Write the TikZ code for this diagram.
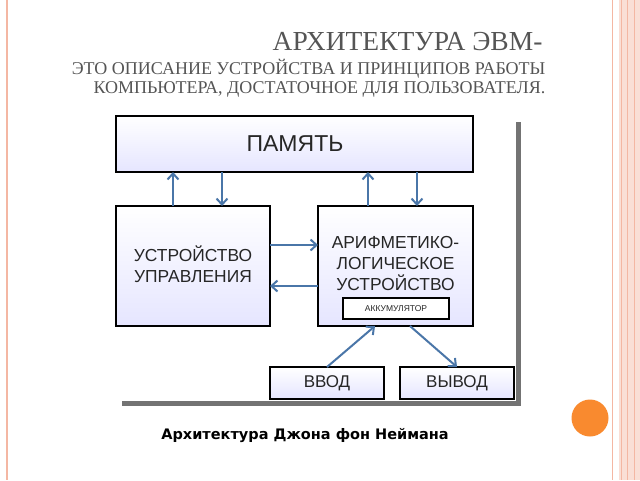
\documentclass[tikz,border=0pt]{standalone}
\usepackage{fontspec}
\setmainfont{Liberation Serif}
\newfontfamily\boxfont{Liberation Sans}
\newfontfamily\capfont{DejaVu Sans}
\usetikzlibrary{arrows.meta}
\definecolor{arr}{HTML}{4A76A8}
\definecolor{deco}{HTML}{F4B7A3}
\definecolor{ttl}{HTML}{555555}
\definecolor{dot}{HTML}{F98A2F}
\tikzset{
  blk/.style={draw=black, line width=1.6pt, top color=white, bottom color=blue!10!white, inner sep=0pt},
  lbl/.style={font=\boxfont, text=black!85},
  conn/.style={draw=arr, line width=2pt, -{Straight Barb[length=6pt,width=11pt,line width=2pt]}},
}
\begin{document}
\begin{tikzpicture}[x=1pt,y=-1pt]
\useasboundingbox (0,0) rectangle (640,480);
\fill[white] (0,0) rectangle (640,480);
% slide decoration
\draw[deco, line width=1.2pt] (7,0) -- (7,480);
\draw[deco, line width=1pt] (612,0) -- (612,480);
\fill[deco!45] (619,0) rectangle (640,480);
\draw[deco, line width=0.8pt] (621,0) -- (621,480) (627,0) -- (627,480) (634,0) -- (634,480);
\fill[dot] (590,418) circle (18.5);
% title
\node[anchor=east, text=ttl, font=\fontsize{27.5}{30}\selectfont] (t1) at (546,42) {АРХИТЕКТУРА ЭВМ-};
\node[anchor=east, text=ttl, align=right, font=\fontsize{18}{19}\selectfont] (t2) at (549,78) {ЭТО ОПИСАНИЕ УСТРОЙСТВА И ПРИНЦИПОВ РАБОТЫ\\КОМПЬЮТЕРА, ДОСТАТОЧНОЕ ДЛЯ ПОЛЬЗОВАТЕЛЯ.};
% shadow frame
\fill[black!55] (516,122) rectangle (521,406);
\fill[black!55] (122,401) rectangle (521,406);
% boxes
\draw[blk] (116,116) rectangle (473,172);
\node[lbl, font=\boxfont\fontsize{23}{25}\selectfont] (mem) at (295,144) {ПАМЯТЬ};
\draw[blk] (116,206) rectangle (270,326);
\node[lbl, align=center, font=\boxfont\fontsize{17.4}{21}\selectfont] (cu) at (193,264) {УСТРОЙСТВО\\УПРАВЛЕНИЯ};
\draw[blk] (318,206) rectangle (473,326);
\node[lbl, align=center, font=\boxfont\fontsize{17.4}{21}\selectfont] (alu) at (395.5,264) {АРИФМЕТИКО-\\ЛОГИЧЕСКОЕ\\УСТРОЙСТВО};
\draw[black, line width=1.4pt, fill=white] (343,298) rectangle (449,319);
\node[lbl, font=\boxfont\fontsize{8.5}{9}\selectfont] (acc) at (396,308.5) {АККУМУЛЯТОР};
\draw[blk] (270,367) rectangle (384,399);
\node[lbl, font=\boxfont\fontsize{17}{19}\selectfont] (in) at (327,383) {ВВОД};
\draw[blk] (400,367) rectangle (514,399);
\node[lbl, font=\boxfont\fontsize{17}{19}\selectfont] (out) at (457,383) {ВЫВОД};
% connector coordinates
\coordinate (a1) at (173,206); \coordinate (b1) at (173,172);
\coordinate (a2) at (222,172); \coordinate (b2) at (222,206);
\coordinate (a3) at (368,206); \coordinate (b3) at (368,172);
\coordinate (a4) at (417,172); \coordinate (b4) at (417,206);
\coordinate (a5) at (270,245); \coordinate (b5) at (318,245);
\coordinate (a6) at (318,286); \coordinate (b6) at (270,286);
\coordinate (a7) at (327,367); \coordinate (b7) at (375,326);
\coordinate (a8) at (410,326); \coordinate (b8) at (457,367);
\foreach \i in {1,...,8} \draw[conn] (a\i) -- (b\i);
% caption
\node[font=\capfont\bfseries\fontsize{14.5}{16}\selectfont] (cap) at (305,436) {Архитектура Джона фон Неймана};
\end{tikzpicture}
\end{document}
